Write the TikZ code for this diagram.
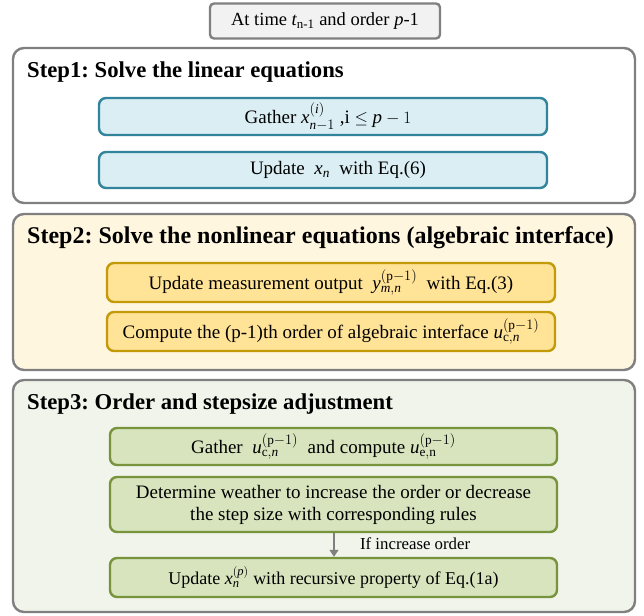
\documentclass[tikz,border=0pt]{standalone}
\usepackage{amsmath}
\usepackage{fontspec}
\setmainfont{Liberation Serif}
\usetikzlibrary{arrows.meta}
\frenchspacing
\definecolor{frameGray}{HTML}{808080}
\definecolor{headFill}{HTML}{F2F2F2}
\definecolor{oneFill}{HTML}{DAEEF3}
\definecolor{oneLine}{HTML}{31849B}
\definecolor{twoBg}{HTML}{FFF6E0}
\definecolor{twoFill}{HTML}{FFE397}
\definecolor{twoLine}{HTML}{C39A0A}
\definecolor{threeBg}{HTML}{F1F4EA}
\definecolor{threeFill}{HTML}{D7E4BD}
\definecolor{threeLine}{HTML}{77933C}
\newcommand{\mi}[1]{\mathit{#1}}
\tikzset{
  panel/.style={draw=frameGray, line width=2.4pt, rounded corners=11pt},
  stepbox/.style={rectangle, rounded corners=7pt, line width=2.4pt, inner sep=0pt, align=center,
                  font=\fontsize{19}{22}\selectfont},
  onebox/.style={stepbox, draw=oneLine, fill=oneFill},
  twobox/.style={stepbox, draw=twoLine, fill=twoFill},
  threebox/.style={stepbox, draw=threeLine, fill=threeFill},
  small/.style={font=\fontsize{18}{21}\selectfont},
  title/.style={anchor=west, inner sep=0pt, font=\fontsize{22.7}{26}\selectfont\bfseries},
}
\begin{document}
\begin{tikzpicture}[x=1pt, y=-1pt]
\useasboundingbox (0,0) rectangle (644,615);

% step panels
\draw[panel, fill=white] (13,48) rectangle (635,203);
\draw[panel, fill=twoBg] (13,214) rectangle (635,370);
\draw[panel, fill=threeBg] (13,380) rectangle (635,612);

% starting condition
\node[stepbox, draw=frameGray, fill=headFill, rounded corners=4pt, minimum width=230pt, minimum height=35pt,
      font=\fontsize{18.5}{21}\selectfont]
  (start) at (325,21) {At time $\mi{t}_{\text{n-1}}$ and order \textit{p}-1};

% step 1
\node[title] (t1) at (27,72) {Step1: Solve the linear equations};
\node[onebox, minimum width=448pt, minimum height=37pt] (g1) at (323,116.5)
  {\hspace*{10pt}Gather $\mi{x}_{\mi{n}-1}^{(\mi{i})}$ ,i $\leq$ $\mi{p}-1$};
\node[onebox, minimum width=448pt, minimum height=36pt] (u1) at (323,170)
  {\hspace*{30pt}Update\ \ $\mi{x}_{\mi{n}}$\ \ with Eq.(6)};

% step 2
\node[title, font=\fontsize{24}{27}\selectfont\bfseries] (t2) at (27,238)
  {Step2: Solve the nonlinear equations (algebraic interface)};
\node[twobox, minimum width=448pt, minimum height=39pt] (m2) at (331,282.5)
  {Update measurement output\ \ $\mi{y}_{\mi{m},\mi{n}}^{(\mathrm{p}-1)}$\ \ with Eq.(3)};
\node[twobox, minimum width=448pt, minimum height=39pt] (c2) at (331,331.5)
  {Compute the (p-1)th order of algebraic interface $\mi{u}_{\mathrm{c},\mi{n}}^{(\mathrm{p}-1)}$};

% step 3
\node[title] (t3) at (27,404) {Step3: Order and stepsize adjustment};
\node[threebox, minimum width=447pt, minimum height=37pt] (g3) at (333.5,446.5)
  {\hspace*{-20pt}Gather\ \ $\mi{u}_{\mathrm{c},\mi{n}}^{(\mathrm{p}-1)}$\ \ and compute $\mi{u}_{\mathrm{e,n}}^{(\mathrm{p}-1)}$};
\node[threebox, minimum width=447pt, minimum height=55pt] (d3) at (333.5,504.5)
  {Determine weather to increase the order or decrease\\the step size with corresponding rules};
\node[threebox, small, minimum width=447pt, minimum height=39pt] (x3) at (333.5,577.5)
  {Update $\mi{x}_{\mi{n}}^{(\mi{p})}$ with recursive property of Eq.(1a)};

\draw[-{Triangle[length=7pt,width=9pt]}, draw=frameGray, fill=frameGray, line width=1.5pt]
  (d3.south -| 334,0) -- node[right=22pt, font=\fontsize{16.8}{19}\selectfont, text=black, pos=0.45] {If increase order}
  (x3.north -| 334,0);
\end{tikzpicture}
\end{document}
